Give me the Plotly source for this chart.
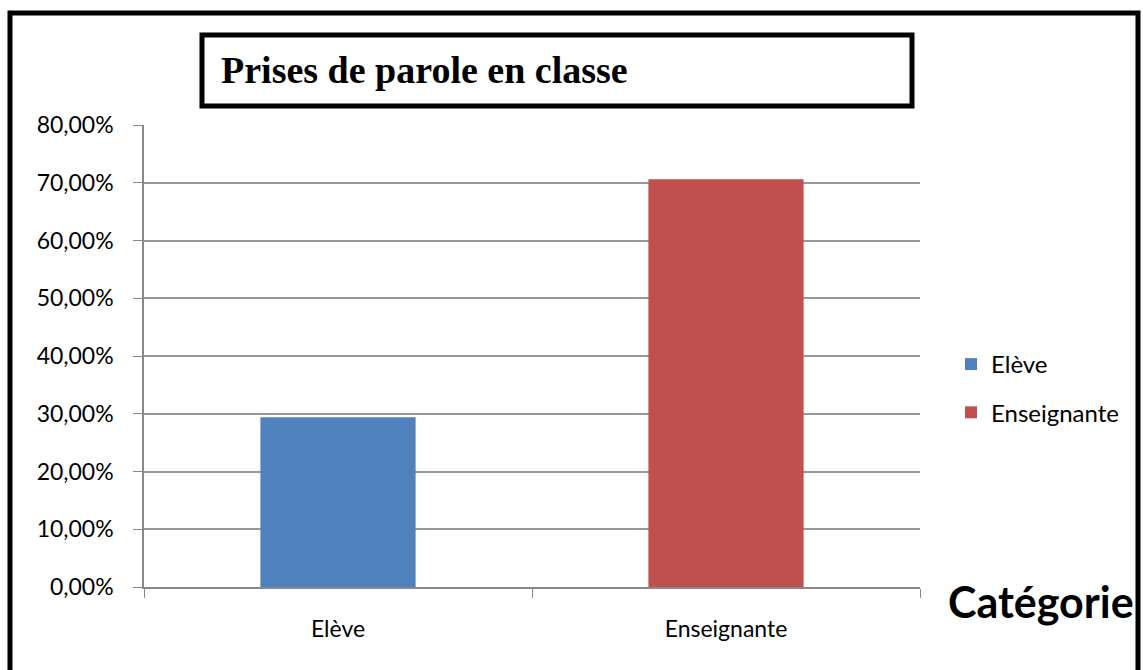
import plotly.graph_objects as go

categories = ["Elève", "Enseignante"]
values = [0.294, 0.706]
colors = ["#4F81BD", "#C0504D"]
y_ticks = [0, 0.1, 0.2, 0.3, 0.4, 0.5, 0.6, 0.7, 0.8]
title_text = "Prises de parole en classe"
x_title = "Catégorie"

W, H = 1143, 670
L, R, T, B = 144, 920, 125, 587  # plot area in pixels

def px(x):
    return (x - L) / (R - L)

def py(y):
    return (B - y) / (B - T)

fig = go.Figure()
for i, (c, v, col) in enumerate(zip(categories, values, colors)):
    fig.add_trace(go.Bar(
        x=[categories[i]], y=[v], name=c, marker=dict(color=col, line=dict(width=0)),
        width=0.4, legendgroup=c,
    ))

fig.update_layout(
    width=W, height=H,
    margin=dict(l=L, r=W - R, t=T, b=H - B, autoexpand=False),
    paper_bgcolor="white", plot_bgcolor="white",
    barmode="overlay",
    separators=", ",
    font=dict(family="Lato, Open Sans, sans-serif", size=23, color="#000000"),
    showlegend=True,
    legend=dict(
        x=px(951), y=py(342), xanchor="left", yanchor="top",
        font=dict(size=24, color="#000"), traceorder="grouped", tracegroupgap=14,
        bgcolor="rgba(0,0,0,0)", itemwidth=30,
    ),
    xaxis=dict(
        categoryorder="array", categoryarray=categories,
        showline=True, linecolor="#888888", linewidth=1.5,
        ticks="outside", tickson="boundaries", ticklen=9, tickcolor="#888888",
        ticklabelstandoff=21, showgrid=False, zeroline=False,
        tickfont=dict(size=23),
    ),
    yaxis=dict(
        range=[0, 0.8], tickvals=y_ticks, tickformat=".2%",
        showline=True, linecolor="#888888", linewidth=1.5,
        ticks="outside", ticklen=9, tickcolor="#888888",
        showgrid=True, gridcolor="#999999", gridwidth=1.5, zeroline=False,
        ticklabelstandoff=15, tickfont=dict(size=23),
    ),
    shapes=[
        dict(type="rect", xref="paper", yref="paper",
             x0=px(10), x1=px(1138), y0=py(700), y1=py(13),
             line=dict(color="black", width=5), layer="above"),
        dict(type="rect", xref="paper", yref="paper",
             x0=px(202), x1=px(912), y0=py(106), y1=py(35),
             line=dict(color="black", width=5), fillcolor="white", layer="above"),
    ],
    annotations=[
        dict(text="<b>" + title_text + "</b>", xref="paper", yref="paper",
             x=px(219), y=py(70), xanchor="left", yanchor="middle", showarrow=False,
             font=dict(family="Liberation Serif, Times New Roman, serif", size=38, color="black")),
        dict(text="<b>" + x_title + "</b>", xref="paper", yref="paper",
             x=px(1041), y=py(601), xanchor="center", yanchor="middle", showarrow=False,
             font=dict(family="Lato, Open Sans, sans-serif", size=43, color="black")),
    ],
)

fig.write_html(
    "out.html",
    config={"displayModeBar": False},
    post_script="document.body.style.margin='0';document.body.style.overflow='hidden';",
)
